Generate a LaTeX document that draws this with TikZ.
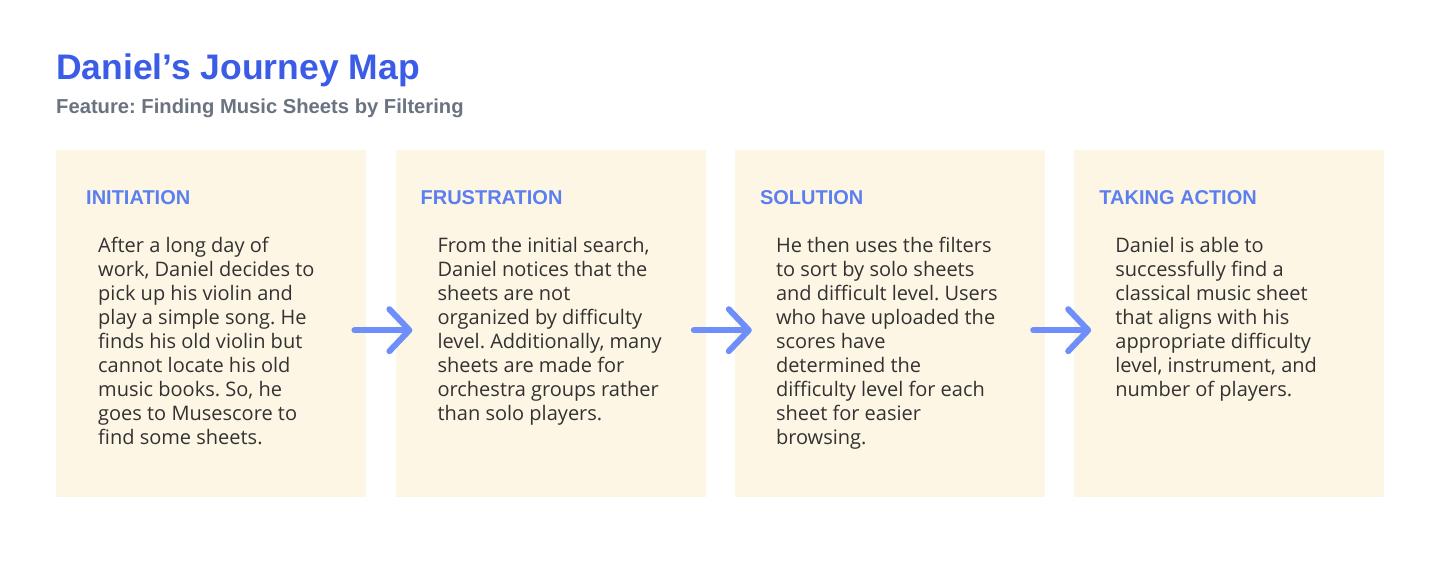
\documentclass[tikz,border=0pt]{standalone}
\usepackage{fontspec}
\setmainfont{Liberation Sans}
\newfontfamily\bodyfont{Open Sans}
\usepackage{xcolor}
\usepackage{tikz}
\usetikzlibrary{calc,positioning,arrows.meta}
\frenchspacing

\definecolor{titleblue}{RGB}{58,92,230}
\definecolor{subgray}{RGB}{107,114,128}
\definecolor{headblue}{RGB}{92,127,240}
\definecolor{cardfill}{RGB}{254,246,228}
\definecolor{bodytext}{RGB}{50,50,50}
\definecolor{arrowblue}{RGB}{110,143,250}

\tikzset{
  card/.style={
    fill=cardfill,
    draw=none,
    minimum width=310pt,
    minimum height=347pt,
    inner sep=0pt
  },
  cardhead/.style={
    anchor=base west,
    text=headblue,
    font=\bfseries\fontsize{20}{24}\selectfont,
    inner sep=0pt
  },
  cardbody/.style={
    anchor=north west,
    align=left,
    text=bodytext,
    font=\bodyfont\fontsize{20}{24}\selectfont,
    inner sep=0pt
  },
  steparrow/.style={
    arrowblue,
    line width=6pt,
    line cap=round,
    -{Straight Barb[length=20pt,width=42pt,round]}
  }
}

\begin{document}
\begin{tikzpicture}[x=1pt,y=-1pt]
    \useasboundingbox[fill=white] (0,0) rectangle (1443,568);

    % title
    \node[
      anchor=base west,
      text=titleblue,
      font=\bfseries\fontsize{35.5}{40}\selectfont,
      inner sep=0pt
    ] (title) at (56,79) {Daniel’s Journey Map};
    \node[
      anchor=base west,
      text=subgray,
      font=\bfseries\fontsize{20.2}{24}\selectfont,
      inner sep=0pt
    ] (subtitle) at (56,113) {Feature: Finding Music Sheets by Filtering};

    % cards
    \node[card, anchor=north west] (card1) at (56,150) {};
    \node[card, right=29pt of card1] (card2) {};
    \node[card, right=29pt of card2] (card3) {};
    \node[card, right=29pt of card3] (card4) {};

    % headings
    \node[cardhead] (head1) at ($(card1.north west)+(30,54)$) {INITIATION};
    \node[cardhead] (head2) at ($(card2.north west)+(25,54)$) {FRUSTRATION};
    \node[cardhead] (head3) at ($(card3.north west)+(25,54)$) {SOLUTION};
    \node[cardhead] (head4) at ($(card4.north west)+(25,54)$) {TAKING ACTION};

    % texts
    \node[cardbody] (body1) at ($(card1.north west)+(42,87)$) {After a long day of\\
      work, Daniel decides to\\
      pick up his violin and\\
      play a simple song. He\\
      finds his old violin but\\
      cannot locate his old\\
      music books. So, he\\
      goes to Musescore to\\
      find some sheets.};
    \node[cardbody] (body2) at ($(card2.north west)+(42,87)$) {From the initial search,\\
      Daniel notices that the\\
      sheets are not\\
      organized by difficulty\\
      level. Additionally, many\\
      sheets are made for\\
      orchestra groups rather\\
      than solo players.};
    \node[cardbody] (body3) at ($(card3.north west)+(41,87)$) {He then uses the filters\\
      to sort by solo sheets\\
      and difficult level. Users\\
      who have uploaded the\\
      scores have\\
      determined the\\
      difficulty level for each\\
      sheet for easier\\
      browsing.};
    \node[cardbody] (body4) at ($(card4.north west)+(41,87)$) {Daniel is able to\\
      successfully find a\\
      classical music sheet\\
      that aligns with his\\
      appropriate difficulty\\
      level, instrument, and\\
      number of players.};

    % arrows
    \draw[steparrow] ($(card1.east)+(-12,6.5)$) -- ($(card2.west)+(17,6.5)$);
    \draw[steparrow] ($(card2.east)+(-12,6.5)$) -- ($(card3.west)+(17,6.5)$);
    \draw[steparrow] ($(card3.east)+(-12,6.5)$) -- ($(card4.west)+(17,6.5)$);
\end{tikzpicture}
\end{document}
